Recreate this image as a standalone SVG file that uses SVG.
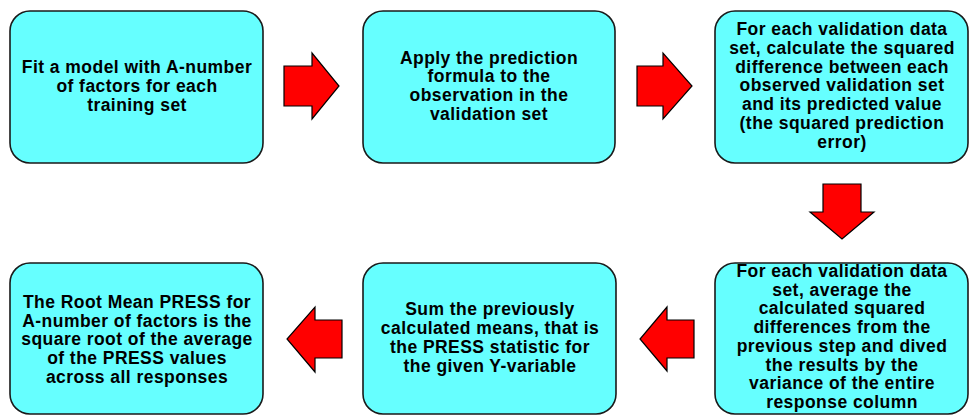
<svg xmlns="http://www.w3.org/2000/svg" width="969" height="417" viewBox="0 0 969 417">
<style>
.box{fill:#66FFFF;stroke:#1a1a1a;stroke-width:1.6}
.arr{fill:#FF0000;stroke:#000;stroke-width:1.2;stroke-linejoin:miter}
text{font-family:"Liberation Sans",Arial,sans-serif;font-weight:bold;font-size:17.5px;letter-spacing:0.45px;fill:#000;text-anchor:middle}
</style>
<rect width="969" height="417" fill="#fff"/>
<g id="node1">
<rect class="box" x="10" y="11" width="253" height="152" rx="20"/>
<text x="137" y="73">Fit a model with A-number</text>
<text x="137" y="92">of factors for each</text>
<text x="137" y="110.5">training set</text>
</g>
<g id="node2">
<rect class="box" x="363" y="11" width="252" height="152" rx="20"/>
<text x="489" y="63.5">Apply the prediction</text>
<text x="489" y="82.3">formula to the</text>
<text x="489" y="101">observation in the</text>
<text x="489" y="119.8">validation set</text>
</g>
<g id="node3">
<rect class="box" x="715" y="11" width="253" height="152" rx="20"/>
<text x="842" y="35">For each validation data</text>
<text x="842" y="53.8">set, calculate the squared</text>
<text x="842" y="72.6">difference between each</text>
<text x="842" y="91.4">observed validation set</text>
<text x="842" y="110.2">and its predicted value</text>
<text x="842" y="129">(the squared prediction</text>
<text x="842" y="147.8">error)</text>
</g>
<g id="node4">
<rect class="box" x="715" y="263" width="253" height="151" rx="20"/>
<text x="842" y="277">For each validation data</text>
<text x="842" y="295.7">set, average the</text>
<text x="842" y="314.4">calculated squared</text>
<text x="842" y="333.1">differences from the</text>
<text x="842" y="351.8">previous step and dived</text>
<text x="842" y="370.5">the results by the</text>
<text x="842" y="389.2">variance of the entire</text>
<text x="842" y="407.9">response column</text>
</g>
<g id="node5">
<rect class="box" x="363" y="263" width="253" height="151" rx="20"/>
<text x="490" y="315">Sum the previously</text>
<text x="490" y="334">calculated means, that is</text>
<text x="490" y="353">the PRESS statistic for</text>
<text x="490" y="372">the given Y-variable</text>
</g>
<g id="node6">
<rect class="box" x="10" y="263" width="253" height="151" rx="20"/>
<text x="137" y="308">The Root Mean PRESS for</text>
<text x="137" y="326.7">A-number of factors is the</text>
<text x="137" y="345.4">square root of the average</text>
<text x="137" y="364.1">of the PRESS values</text>
<text x="137" y="382.8">across all responses</text>
</g>
<g id="connectors">
<polygon class="arr" points="284,66 312,66 312,53 339,86 312,119 312,106 284,106"/>
<polygon class="arr" points="637,66 663,66 663,53 692,86 663,119 663,106 637,106"/>
<polygon class="arr" points="823,184 861,184 861,212 874,212 842,239 810,212 823,212"/>
<polygon class="arr" points="694,320 667,320 667,307 640,339 667,371 667,358 694,358"/>
<polygon class="arr" points="342,320 315,320 315,307 287,339 315,372 315,358 342,358"/>
</g>
</svg>
